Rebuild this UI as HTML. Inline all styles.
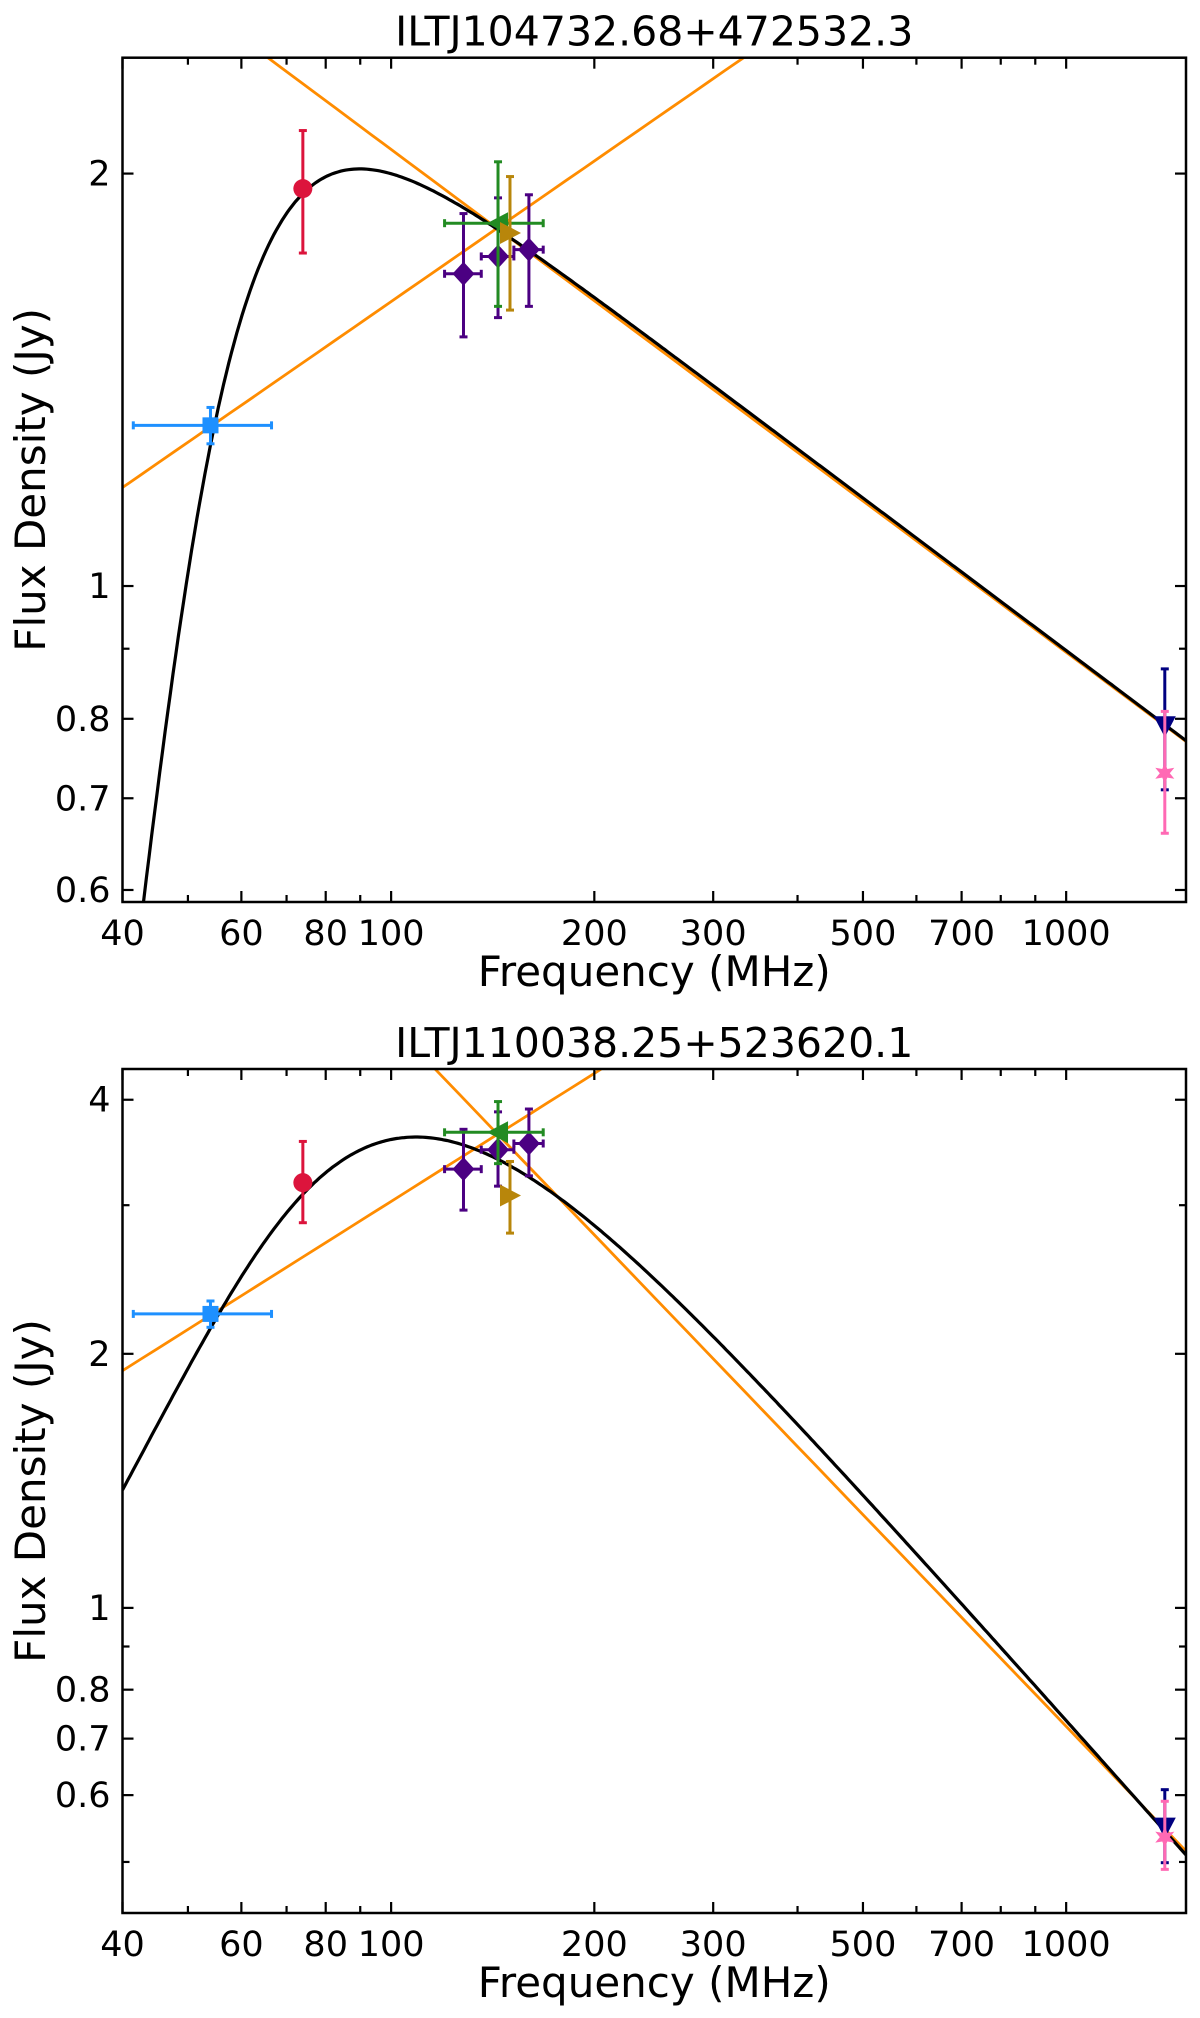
<!DOCTYPE html>
<html><head><meta charset="utf-8">
<style>
html,body{margin:0;padding:0;background:#fff;}
svg{display:block;font-family:"DejaVu Sans","Liberation Sans",sans-serif;}
</style></head>
<body>
<svg id="fig" width="1200" height="2018" viewBox="0 0 1200 2018" xmlns="http://www.w3.org/2000/svg"></svg>
<script>
// ---- data: panel 1 ----
const p1Title = "ILTJ104732.68+472532.3";
const p1Freq = [54, 74, 128, 144, 160, 144, 150, 1400, 1400];
const p1Flux = [1.31, 1.95, 1.69, 1.74, 1.76, 1.84, 1.81, 0.79, 0.73];
const p1ErrLo = [0.04, 0.20, 0.17, 0.17, 0.16, 0.24, 0.22, 0.08, 0.07];
const p1ErrHi = [0.04, 0.20, 0.18, 0.18, 0.17, 0.20, 0.18, 0.08, 0.08];
const p1XErr = [12.5, 0, 8, 8, 8, 24, 0, 0, 0];
const p1YTicks = [0.6, 0.7, 0.8, 1, 2];
const p1YMinor = [0.9];
const p1Fit = {A: 2.53, nu1: 60.7, k: 4.2, alpha: -0.37};
const p1Thin = {S0: 0.77, nu0: 1505, slope: -0.367};
const p1Thick = {S0: 1.18, nu0: 40, slope: 0.341};
// ---- data: panel 2 ----
const p2Title = "ILTJ110038.25+523620.1";
const p2Freq = [54, 74, 128, 144, 160, 144, 150, 1400, 1400];
const p2Flux = [2.23, 3.19, 3.31, 3.49, 3.55, 3.66, 3.08, 0.549, 0.535];
const p2ErrLo = [0.08, 0.33, 0.35, 0.33, 0.3, 0.3, 0.3, 0.05, 0.045];
const p2ErrHi = [0.08, 0.38, 0.38, 0.38, 0.35, 0.32, 0.3, 0.06, 0.055];
const p2XErr = [12.5, 0, 8, 8, 8, 24, 0, 0, 0];
const p2YTicks = [0.6, 0.7, 0.8, 1, 2, 4];
const p2YMinor = [0.5, 0.9, 3];
const p2Fit = {A: 5.7, nu1: 103, k: 1.5, alpha: -0.9};
const p2Thin = {S0: 0.515, nu0: 1505, slope: -0.833};
const p2Thick = {S0: 1.91, nu0: 40, slope: 0.504};
// shared
const xTicks = [40, 60, 80, 100, 200, 300, 500, 700, 1000];
const xMinor = [50, 70, 90, 400, 600, 800, 900];
const markerNames = ["vlssr-square","vlss-circle","lotss-diamond-1","lotss-diamond-2","lotss-diamond-3","tgss-triangle-left","wenss-triangle-right","nvss-triangle-down","first-star"];
const markerColors = ["#1e90ff","#dc143c","#4b0082","#4b0082","#4b0082","#228b22","#b8860b","#000080","#ff69b4"];
const markerShapes = ["square","circle","diamond","diamond","diamond","tleft","tright","tdown","star"];

const NS="http://www.w3.org/2000/svg";
const svg=document.getElementById('fig');
function mk(tag,attrs,parent){const e=document.createElementNS(NS,tag);for(const k in attrs)e.setAttribute(k,attrs[k]);(parent||svg).appendChild(e);return e;}

function panel(cfg){
  const L=122.5,R=1186,T=cfg.top,B=cfg.bottom;
  const xmin=40,xmax=1505;
  const sx=v=>L+(Math.log10(v)-Math.log10(xmin))/(Math.log10(xmax)-Math.log10(xmin))*(R-L);
  const sy=v=>B-(Math.log10(v)-Math.log10(cfg.ymin))/(Math.log10(cfg.ymax)-Math.log10(cfg.ymin))*(B-T);
  const g=mk('g',{});
  
  
  const cid='clip'+cfg.name;
  const cp=mk('clipPath',{id:cid},g);mk('rect',{x:L,y:T,width:R-L,height:B-T},cp);
  const t=mk('text',{x:(L+R)/2,y:T-12,'text-anchor':'middle','font-size':41,fill:'#000'},g);
  t.textContent=cfg.title;
  
  
  const plot=mk('g',{'clip-path':'url(#'+cid+')'},g);
  [cfg.thin,cfg.thick].forEach((p,i)=>{
    let d='';
    for(let j=0;j<=60;j++){const v=xmin*Math.pow(xmax/xmin,j/60);const s=p.S0*Math.pow(v/p.nu0,p.slope);d+=(j?'L':'M')+sx(v).toFixed(1)+','+sy(s).toFixed(1);}
    const pl=mk('path',{d:d,fill:'none',stroke:'#ff8c00','stroke-width':2.8},plot);
    
    
  });
  let d='';const f=cfg.fit;
  for(let j=0;j<=400;j++){const v=xmin*Math.pow(xmax/xmin,j/400);const x=v/f.nu1;
    const s=f.A*Math.pow(x,f.k)*(1-Math.exp(-Math.pow(x,f.alpha-f.k)));
    d+=(j?'L':'M')+sx(v).toFixed(1)+','+Math.min(sy(s),B+50).toFixed(1);}
  const fl=mk('path',{d:d,fill:'none',stroke:'#000','stroke-width':3.2},plot);
  
  
  cfg.freq.forEach((v,i)=>{
    const c=markerColors[i],x=sx(v),y=sy(cfg.flux[i]);
    const pg=mk('g',{stroke:c,fill:c},plot);
    
    
    const y1=sy(cfg.flux[i]+cfg.errHi[i]),y2=sy(cfg.flux[i]-cfg.errLo[i]);
    mk('line',{x1:x,x2:x,y1:y1,y2:y2,'stroke-width':3},pg);
    mk('line',{x1:x-4,x2:x+4,y1:y1,y2:y1,'stroke-width':3},pg);
    mk('line',{x1:x-4,x2:x+4,y1:y2,y2:y2,'stroke-width':3},pg);
    if(cfg.xerr[i]>0){const xa=sx(v-cfg.xerr[i]),xb=sx(v+cfg.xerr[i]);
      mk('line',{x1:xa,x2:xb,y1:y,y2:y,'stroke-width':3},pg);
      mk('line',{x1:xa,x2:xa,y1:y-4,y2:y+4,'stroke-width':3},pg);
      mk('line',{x1:xb,x2:xb,y1:y-4,y2:y+4,'stroke-width':3},pg);}
    const s=markerShapes[i];
    if(s==='square')mk('rect',{x:x-8,y:y-8,width:16,height:16,stroke:'none'},pg);
    else if(s==='circle')mk('circle',{cx:x,cy:y,r:9.5,stroke:'none'},pg);
    else if(s==='diamond')mk('polygon',{points:`${x},${y-12} ${x+11},${y} ${x},${y+12} ${x-11},${y}`,stroke:'none'},pg);
    else if(s==='tleft')mk('polygon',{points:`${x-11},${y} ${x+10},${y-11} ${x+10},${y+11}`,stroke:'none'},pg);
    else if(s==='tright')mk('polygon',{points:`${x+11},${y} ${x-10},${y-11} ${x-10},${y+11}`,stroke:'none'},pg);
    else if(s==='tdown')mk('polygon',{points:`${x},${y+11} ${x-11},${y-10} ${x+11},${y-10}`,stroke:'none'},pg);
    else {let pts='';for(let k=0;k<12;k++){const a=k*Math.PI/6,rr=k%2?5:11;pts+=(x+rr*Math.sin(a))+','+(y-rr*Math.cos(a))+' ';}mk('polygon',{points:pts,stroke:'none'},pg);}
  });
  const fr=mk('rect',{x:L,y:T,width:R-L,height:B-T,fill:'none',stroke:'#000','stroke-width':2.5},g);
  
  
  const ax=mk('g',{stroke:'#000','stroke-width':2.2},g);
  
  
  const lab=mk('g',{'font-size':35,fill:'#000'},g);
  
  
  xTicks.concat(xMinor).forEach(v=>{const x=sx(v),len=xTicks.includes(v)?11:7;
    mk('line',{x1:x,x2:x,y1:B,y2:B-len},ax);mk('line',{x1:x,x2:x,y1:T,y2:T+len},ax);});
  xTicks.forEach(v=>{const tt=mk('text',{x:sx(v),y:B+43,'text-anchor':'middle'},lab);tt.textContent=v;});
  cfg.yticks.concat(cfg.yminor).forEach(v=>{const y=sy(v),len=cfg.yticks.includes(v)?11:7;
    mk('line',{x1:L,x2:L+len,y1:y,y2:y},ax);mk('line',{x1:R,x2:R-len,y1:y,y2:y},ax);});
  cfg.yticks.forEach(v=>{const tt=mk('text',{x:L-12,y:sy(v)+12,'text-anchor':'end'},lab);tt.textContent=v;});
  const xl=mk('text',{x:(L+R)/2,y:B+84,'text-anchor':'middle','font-size':42},g);
  xl.textContent='Frequency (MHz)';
  
  
  const cy=(T+B)/2;
  const yl=mk('text',{x:45,y:cy,'text-anchor':'middle','font-size':42,transform:`rotate(-90 45 ${cy})`},g);
  yl.textContent='Flux Density (Jy)';
  
  
}
panel({name:'panel-top',title:p1Title,top:57.7,bottom:902,ymin:0.588,ymax:2.43,freq:p1Freq,flux:p1Flux,errLo:p1ErrLo,errHi:p1ErrHi,xerr:p1XErr,yticks:p1YTicks,yminor:p1YMinor,fit:p1Fit,thin:p1Thin,thick:p1Thick});
panel({name:'panel-bottom',title:p2Title,top:1069,bottom:1913,ymin:0.435,ymax:4.35,freq:p2Freq,flux:p2Flux,errLo:p2ErrLo,errHi:p2ErrHi,xerr:p2XErr,yticks:p2YTicks,yminor:p2YMinor,fit:p2Fit,thin:p2Thin,thick:p2Thick});
</script>
</body></html>
